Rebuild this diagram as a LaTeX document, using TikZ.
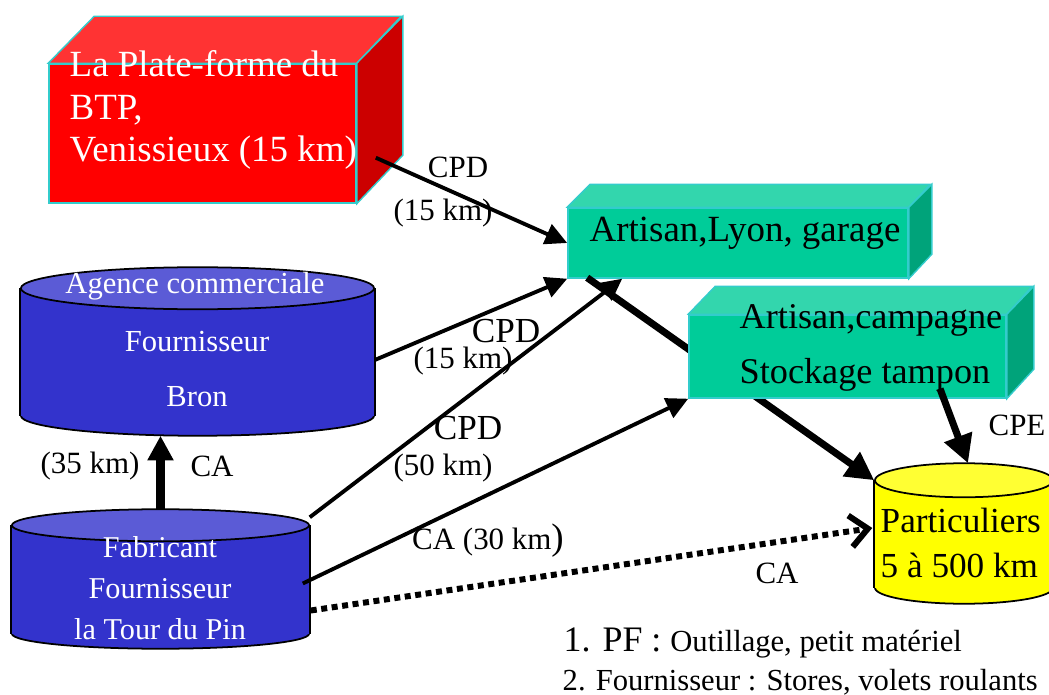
\documentclass[tikz,border=0pt]{standalone}
\usepackage{fontspec}
\setmainfont{Liberation Serif}
\usetikzlibrary{arrows.meta,calc}
\definecolor{pffront}{HTML}{FF0000}
\definecolor{pftop}{HTML}{FF3333}
\definecolor{pfside}{HTML}{CC0000}
\definecolor{artfront}{HTML}{00CC99}
\definecolor{arttop}{HTML}{33D6AD}
\definecolor{artside}{HTML}{00A37A}
\definecolor{boxedge}{HTML}{33CCCC}
\definecolor{fourbody}{HTML}{3333CC}
\definecolor{fourtop}{HTML}{5B5BD6}
\definecolor{partbody}{HTML}{FFFF00}
\definecolor{parttop}{HTML}{FFFF33}
\begin{document}
\begin{tikzpicture}[x=0.01cm,y=-0.01cm,
  face/.style={draw=boxedge,line width=0.4pt,inner sep=0pt},
  drum/.style={inner sep=0pt},
  arr/.style={line width=1.1pt,-{Triangle[length=6.2pt,width=6pt]}},
  bigarr/.style={line width=2pt,-{Triangle[length=8pt,width=8pt]}},
  dotarr/.style={line width=1.7pt,dash pattern=on 1.7pt off 1.3pt,-{Straight Barb[length=5pt,width=9pt]}},
  lbl/.style={font=\fontsize{8.8}{10}\selectfont,inner sep=0pt},
  biglbl/.style={font=\fontsize{10}{12}\selectfont,inner sep=0pt}]
  \useasboundingbox (0,0) rectangle (1049,695);

  % plate-forme
  \node[face,fill=pffront,minimum width=3.07cm,minimum height=1.39cm] (pf) at (202.5,133.5) {};
  \filldraw[fill=pftop,draw=boxedge,line width=0.4pt] (pf.north west) -- ++(46,-47) -- ++(307,0) -- (pf.north east) -- cycle;
  \filldraw[fill=pfside,draw=boxedge,line width=0.4pt] (pf.north east) -- ++(46,-47) -- ++(0,139) -- (pf.south east) -- cycle;
  \node[anchor=west,inner sep=0pt,text=white,align=left,font=\fontsize{10.5}{12.2}\selectfont] (pftxt) at (69,110) {La Plate-forme du\\BTP,\\Venissieux (15 km)};

  % artisan lyon
  \node[face,fill=artfront,minimum width=3.4cm,minimum height=0.7cm] (lyon) at (738,243) {};
  \filldraw[fill=arttop,draw=boxedge,line width=0.4pt] (lyon.north west) -- ++(23,-23) -- ++(340,0) -- (lyon.north east) -- cycle;
  \filldraw[fill=artside,draw=boxedge,line width=0.4pt] (lyon.north east) -- ++(23,-23) -- ++(0,70) -- (lyon.south east) -- cycle;
  \node[anchor=west,inner sep=0pt,font=\fontsize{10.5}{12}\selectfont] (lyontxt) at (589,233) {Artisan,Lyon, garage};

  % agence Bron
  \node[drum,minimum width=3.53cm,minimum height=1.26cm] (agence) at (197.5,352) {};
  \draw[fill=fourbody,line width=0.5pt] (agence.south) ellipse [x radius=1.765cm,y radius=0.2cm];
  \fill[fourbody] (agence.north west) rectangle (agence.south east);
  \draw[line width=0.5pt] (agence.north west) -- (agence.south west) (agence.north east) -- (agence.south east);
  \draw[fill=fourtop,line width=0.5pt] (agence.north) ellipse [x radius=1.765cm,y radius=0.21cm];
  \node[text=white,inner sep=0pt,font=\fontsize{8.7}{10}\selectfont] (ag1) at (195,286) {Agence commerciale};
  \node[text=white,inner sep=0pt,font=\fontsize{8.7}{10}\selectfont] (ag2) at (197,342) {Fournisseur};
  \node[text=white,inner sep=0pt,font=\fontsize{8.7}{10}\selectfont] (ag3) at (197,397) {Bron};

  % fabricant
  \node[drum,minimum width=2.97cm,minimum height=1.07cm] (fab) at (160.5,579.5) {};
  \draw[fill=fourbody,line width=0.5pt] (fab.south) ellipse [x radius=1.485cm,y radius=0.15cm];
  \fill[fourbody] (fab.north west) rectangle (fab.south east);
  \draw[line width=0.5pt] (fab.north west) -- (fab.south west) (fab.north east) -- (fab.south east);
  \draw[fill=fourtop,line width=0.5pt] (fab.north) ellipse [x radius=1.485cm,y radius=0.16cm];
  \node[text=white,inner sep=0pt,align=center,font=\fontsize{8.6}{11.6}\selectfont] (fabtxt) at (160,588) {Fabricant\\Fournisseur\\la Tour du Pin};

  % particuliers
  \node[drum,minimum width=1.78cm,minimum height=1.06cm] (part) at (964,534) {};
  \draw[fill=partbody,line width=0.5pt] (part.south) ellipse [x radius=0.89cm,y radius=0.16cm];
  \fill[partbody] (part.north west) rectangle (part.south east);
  \draw[line width=0.5pt] (part.north west) -- (part.south west) (part.north east) -- (part.south east);
  \draw[fill=parttop,line width=0.5pt] (part.north) ellipse [x radius=0.89cm,y radius=0.17cm];
  \node[anchor=west,inner sep=0pt,align=left,font=\fontsize{10}{12.8}\selectfont] (parttxt) at (880,542.5) {Particuliers\\5 à 500 km};

  \draw[bigarr] ($(lyon.south west)+(20,-1)$) -- (part.north west);

  % artisan campagne
  \node[face,fill=artfront,minimum width=3.17cm,minimum height=0.83cm] (camp) at (847.5,356.5) {};
  \filldraw[fill=arttop,draw=boxedge,line width=0.4pt] (camp.north west) -- ++(27,-28) -- ++(317,0) -- (camp.north east) -- cycle;
  \filldraw[fill=artside,draw=boxedge,line width=0.4pt] (camp.north east) -- ++(27,-28) -- ++(0,83) -- (camp.south east) -- cycle;
  \node[anchor=west,inner sep=0pt,align=left,font=\fontsize{10.3}{15.6}\selectfont] (camptxt) at (739,347.5) {Artisan,campagne\\Stockage tampon};

  \draw[arr] ($(pf.south east)+(19,-46)$) -- (lyon.west);
  \node[lbl] (cpd1) at (458,167) {CPD};
  \node[lbl] (km1) at (443,213) {(15 km)};

  \draw[arr] ($(agence.east)+(0,8)$) -- (lyon.south west);
  \node[biglbl] (cpd2) at (506,331) {CPD};
  \node[lbl] (km2) at (463,361) {(15 km)};

  \draw[arr] ($(fab.north east)+(0,-8)$) -- ($(lyon.south west)+(55,0)$);
  \node[biglbl] (cpd3) at (468,428) {CPD};
  \node[lbl] (km3) at (443,468) {(50 km)};

  \draw[arr] ($(fab.east)+(-7,4)$) -- (camp.south west);
  \node[lbl] (ca1) at (488,541) {CA (30 km\fontsize{10.5}{12}\selectfont)};

  \draw[dotarr] ($(fab.east)+(1,31)$) -- ($(part.west)+(-2,-6)$);
  \node[lbl] (ca2) at (777,573) {CA};

  \draw[bigarr] ($(camp.south)+(92.5,-10)$) -- ($(part.north)+(4,-17)$);
  \node[lbl] (cpe) at (1017,425) {CPE};

  \draw[line width=2.3pt,-{Triangle[length=7pt,width=7pt]}] ($(fab.north)+(0,-16)$) -- ($(agence.south)+(-37,20)$);
  \node[lbl] (km4) at (90,466) {(35 km)};
  \node[lbl] (ca3) at (212,466) {CA};

  \node[anchor=west,inner sep=0pt] (note1) at (563,643) {\fontsize{10.2}{12}\selectfont 1. PF : \fontsize{8.7}{10}\selectfont Outillage, petit matériel};
  \node[anchor=west,inner sep=0pt,font=\fontsize{8.7}{10}\selectfont] (note2) at (562,682) {2. Fournisseur : Stores, volets roulants};
\end{tikzpicture}
\end{document}
